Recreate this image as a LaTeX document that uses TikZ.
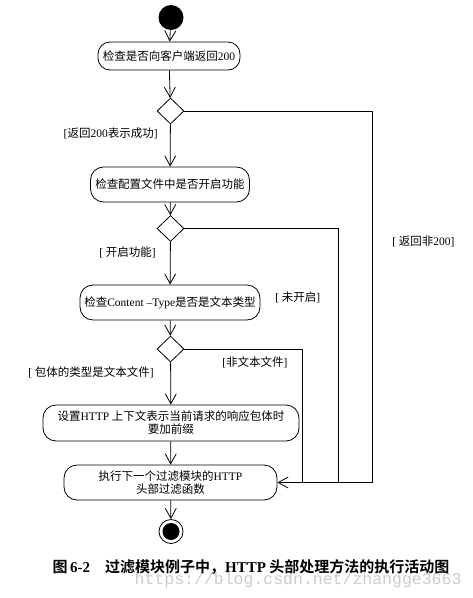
\documentclass[tikz,border=0pt]{standalone}
\usepackage{fontspec}
\setmainfont{Noto Sans CJK SC}[BoldFont={Noto Sans CJK SC Bold}]
\newfontfamily\latinfont{Liberation Serif}
\newfontfamily\webmono{Liberation Mono}
\usepackage{tikz}
\usetikzlibrary{arrows.meta, positioning, shapes.geometric}

\newcommand\lat[1]{{\latinfont #1}}
\newcommand\guard[1]{\lat{[}#1\lat{]}}

\begin{document}
\begin{tikzpicture}[
		x=1pt, y=-1pt,
		line width=0.8pt,
		font=\fontsize{11.5}{14}\selectfont,
		arr/.style={-{Straight Barb[length=10pt,width=11pt,line width=0.8pt]}},
		act/.style={draw, rounded corners=13pt, align=center, inner xsep=3pt, inner ysep=2pt, minimum height=35pt},
		decide/.style={draw, diamond, inner sep=0pt, minimum width=27pt, minimum height=26pt},
		guardlbl/.style={inner sep=1pt}
		]
		\useasboundingbox (0,0) rectangle (473,598);
		
		% =========================================================
		% 1. Start, activities and decisions
		% =========================================================
		\node[circle, fill=black, minimum size=25pt, inner sep=0pt] (Start) at (171, 17.5) {};
		
		\node[act, minimum width=142pt, minimum height=28pt, rounded corners=12pt] (Check200) at (169, 56) {检查是否向客户端返回\lat{200}};
		\node[decide] (D1) at (170.5, 111) {};
		
		\node[act, minimum width=159pt] (CheckConf) at (170, 184.5) {检查配置文件中是否开启功能};
		\node[decide] (D2) at (170.5, 228.5) {};
		
		\node[act, minimum width=180pt] (CheckType) at (170, 302.5) {检查\lat{Content –Type}是否是文本类型};
		\node[decide] (D3) at (170.5, 349) {};
		
		\node[act, minimum width=256pt, minimum height=36pt] (SetPrefix) at (171, 423) {设置\lat{HTTP} 上下文表示当前请求的响应包体时\\[-1pt]要加前缀};
		\node[act, minimum width=213pt] (NextFilter) at (170.5, 482.5) {执行下一个过滤模块的\lat{HTTP}\\[-1pt]头部过滤函数};
		
		% End node
		\node[circle, draw, minimum size=24pt, inner sep=0pt] (End) at (171, 531.5) {};
		\node[circle, fill=black, minimum size=17pt, inner sep=0pt] (EndDot) at (End) {};
		
		% =========================================================
		% 2. Main flow
		% =========================================================
		\draw[arr] (Start) -- (Check200);
		\draw[arr] (Check200) -- (D1);
		\draw[arr] (D1) -- (CheckConf);
		\draw[arr] (CheckConf) -- (D2);
		\draw[arr] (D2) -- (CheckType);
		\draw[arr] (CheckType) -- (D3);
		\draw[arr] (D3) -- (SetPrefix);
		\draw[arr] (SetPrefix) -- (NextFilter);
		\draw[arr] (NextFilter) -- (End);
		
		% =========================================================
		% 3. Side branches back to the next filter
		% =========================================================
		\coordinate (J1) at (372, 482.5);
		\coordinate (J2) at (338, 482.5);
		\coordinate (J3) at (302, 482.5);
		\draw[arr] (D1.east) -| (J1) -- (NextFilter.east);
		\draw (D2.east) -| (J2);
		\draw (D3.east) -| (J3);
		
		% Guard labels
		\node[guardlbl, anchor=east] (G1) at (159, 133) {\guard{返回\lat{200}表示成功}};
		\node[guardlbl, anchor=east] (G2) at (157, 252) {\guard{ 开启功能}};
		\node[guardlbl, anchor=east] (G3) at (155, 372.5) {\guard{ 包体的类型是文本文件}};
		\node[guardlbl, anchor=west] (G4) at (391, 241) {\guard{ 返回非\lat{200}}};
		\node[guardlbl, anchor=west] (G5) at (274, 297.5) {\guard{ 未开启}};
		\node[guardlbl, anchor=west] (G6) at (221, 362) {\guard{非文本文件}};
		
		% =========================================================
		% 4. Caption
		% =========================================================
		\node[anchor=west, text=black!20, font=\webmono\fontsize{16.5}{18}\selectfont] (Mark) at (131, 580) {https://blog.csdn.net/zhangge3663};
		\node[anchor=west, font=\fontsize{15}{18}\selectfont\bfseries] (Caption) at (49, 567) {图\,\lat{6-2}\quad 过滤模块例子中，\lat{HTTP} 头部处理方法的执行活动图};
	\end{tikzpicture}
\end{document}
